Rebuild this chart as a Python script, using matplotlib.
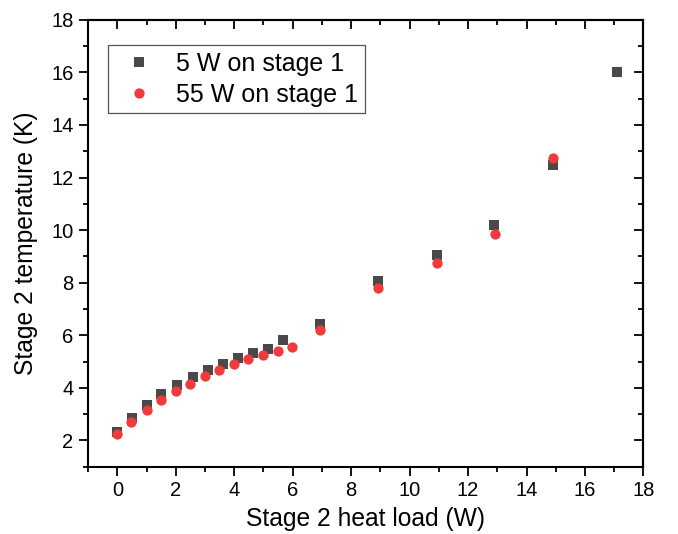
import matplotlib
matplotlib.use("Agg")
import matplotlib.pyplot as plt
from matplotlib.ticker import MultipleLocator

plt.rcParams['font.family'] = ['Liberation Sans', 'DejaVu Sans']

# 5 W on stage 1
load_5w = [0.0, 0.5, 1.0, 1.5, 2.05, 2.58, 3.09, 3.62, 4.13, 4.63, 5.15, 5.66, 6.95, 8.93, 10.93, 12.9, 14.89, 17.09]
temp_5w = [2.31, 2.84, 3.34, 3.75, 4.10, 4.42, 4.68, 4.92, 5.13, 5.32, 5.49, 5.82, 6.44, 8.08, 9.06, 10.18, 12.47, 16.0]

# 55 W on stage 1
load_55w = [0.0, 0.48, 1.0, 1.5, 2.0, 2.5, 3.0, 3.49, 3.98, 4.48, 4.99, 5.49, 5.98, 6.95, 8.93, 10.93, 12.92, 14.92]
temp_55w = [2.25, 2.69, 3.16, 3.55, 3.88, 4.13, 4.45, 4.68, 4.90, 5.10, 5.25, 5.42, 5.57, 6.20, 7.80, 8.74, 9.86, 12.74]

fig = plt.figure(figsize=(6.78, 5.34), dpi=100)
ax = fig.add_axes([0.130, 0.126, 0.819, 0.837])

ax.plot(load_5w, temp_5w, 's', color='#494949', ms=6.8, mew=0, label='5 W on stage 1')
ax.plot(load_55w, temp_55w, 'o', color='#f03a3c', ms=7.4, mew=0, label='55 W on stage 1')

ax.set_xlim(-1, 18)
ax.set_ylim(1, 18)
ax.xaxis.set_major_locator(MultipleLocator(2))
ax.xaxis.set_minor_locator(MultipleLocator(1))
ax.yaxis.set_minor_locator(MultipleLocator(1))
ax.set_yticks(range(2, 19, 2))

for s in ax.spines.values():
    s.set_linewidth(1.5)

ax.tick_params(which='major', direction='out', length=6.5, width=1.3, labelsize=14.5, pad=4)
ax.tick_params(which='minor', direction='out', length=3.3, width=1.3)

# mirrored ticks pointing inwards
top = ax.secondary_xaxis('top')
top.xaxis.set_major_locator(MultipleLocator(2))
top.xaxis.set_minor_locator(MultipleLocator(1))
top.tick_params(which='major', direction='in', length=6.5, width=1.3, labeltop=False)
top.tick_params(which='minor', direction='in', length=3.3, width=1.3)
top.spines['top'].set_linewidth(1.5)

right = ax.secondary_yaxis('right')
right.yaxis.set_major_locator(MultipleLocator(2))
right.yaxis.set_minor_locator(MultipleLocator(1))
right.tick_params(which='major', direction='in', length=6.5, width=1.3, labelright=False)
right.tick_params(which='minor', direction='in', length=3.3, width=1.3)
right.spines['right'].set_linewidth(1.5)

ax.set_xlabel('Stage 2 heat load (W)', fontsize=17.7, labelpad=5)
ax.set_ylabel('Stage 2 temperature (K)', fontsize=17.7, labelpad=9.5)

leg = ax.legend(loc='upper left', bbox_to_anchor=(0.035, 0.9425), borderaxespad=0,
                fontsize=18, frameon=True, fancybox=False, edgecolor='#555555',
                framealpha=1, borderpad=0.25, handlelength=2.0, handletextpad=0.5,
                markerscale=1.0, labelspacing=0.3)
leg.get_frame().set_linewidth(0.9)

fig.savefig('out.png', dpi=100)
